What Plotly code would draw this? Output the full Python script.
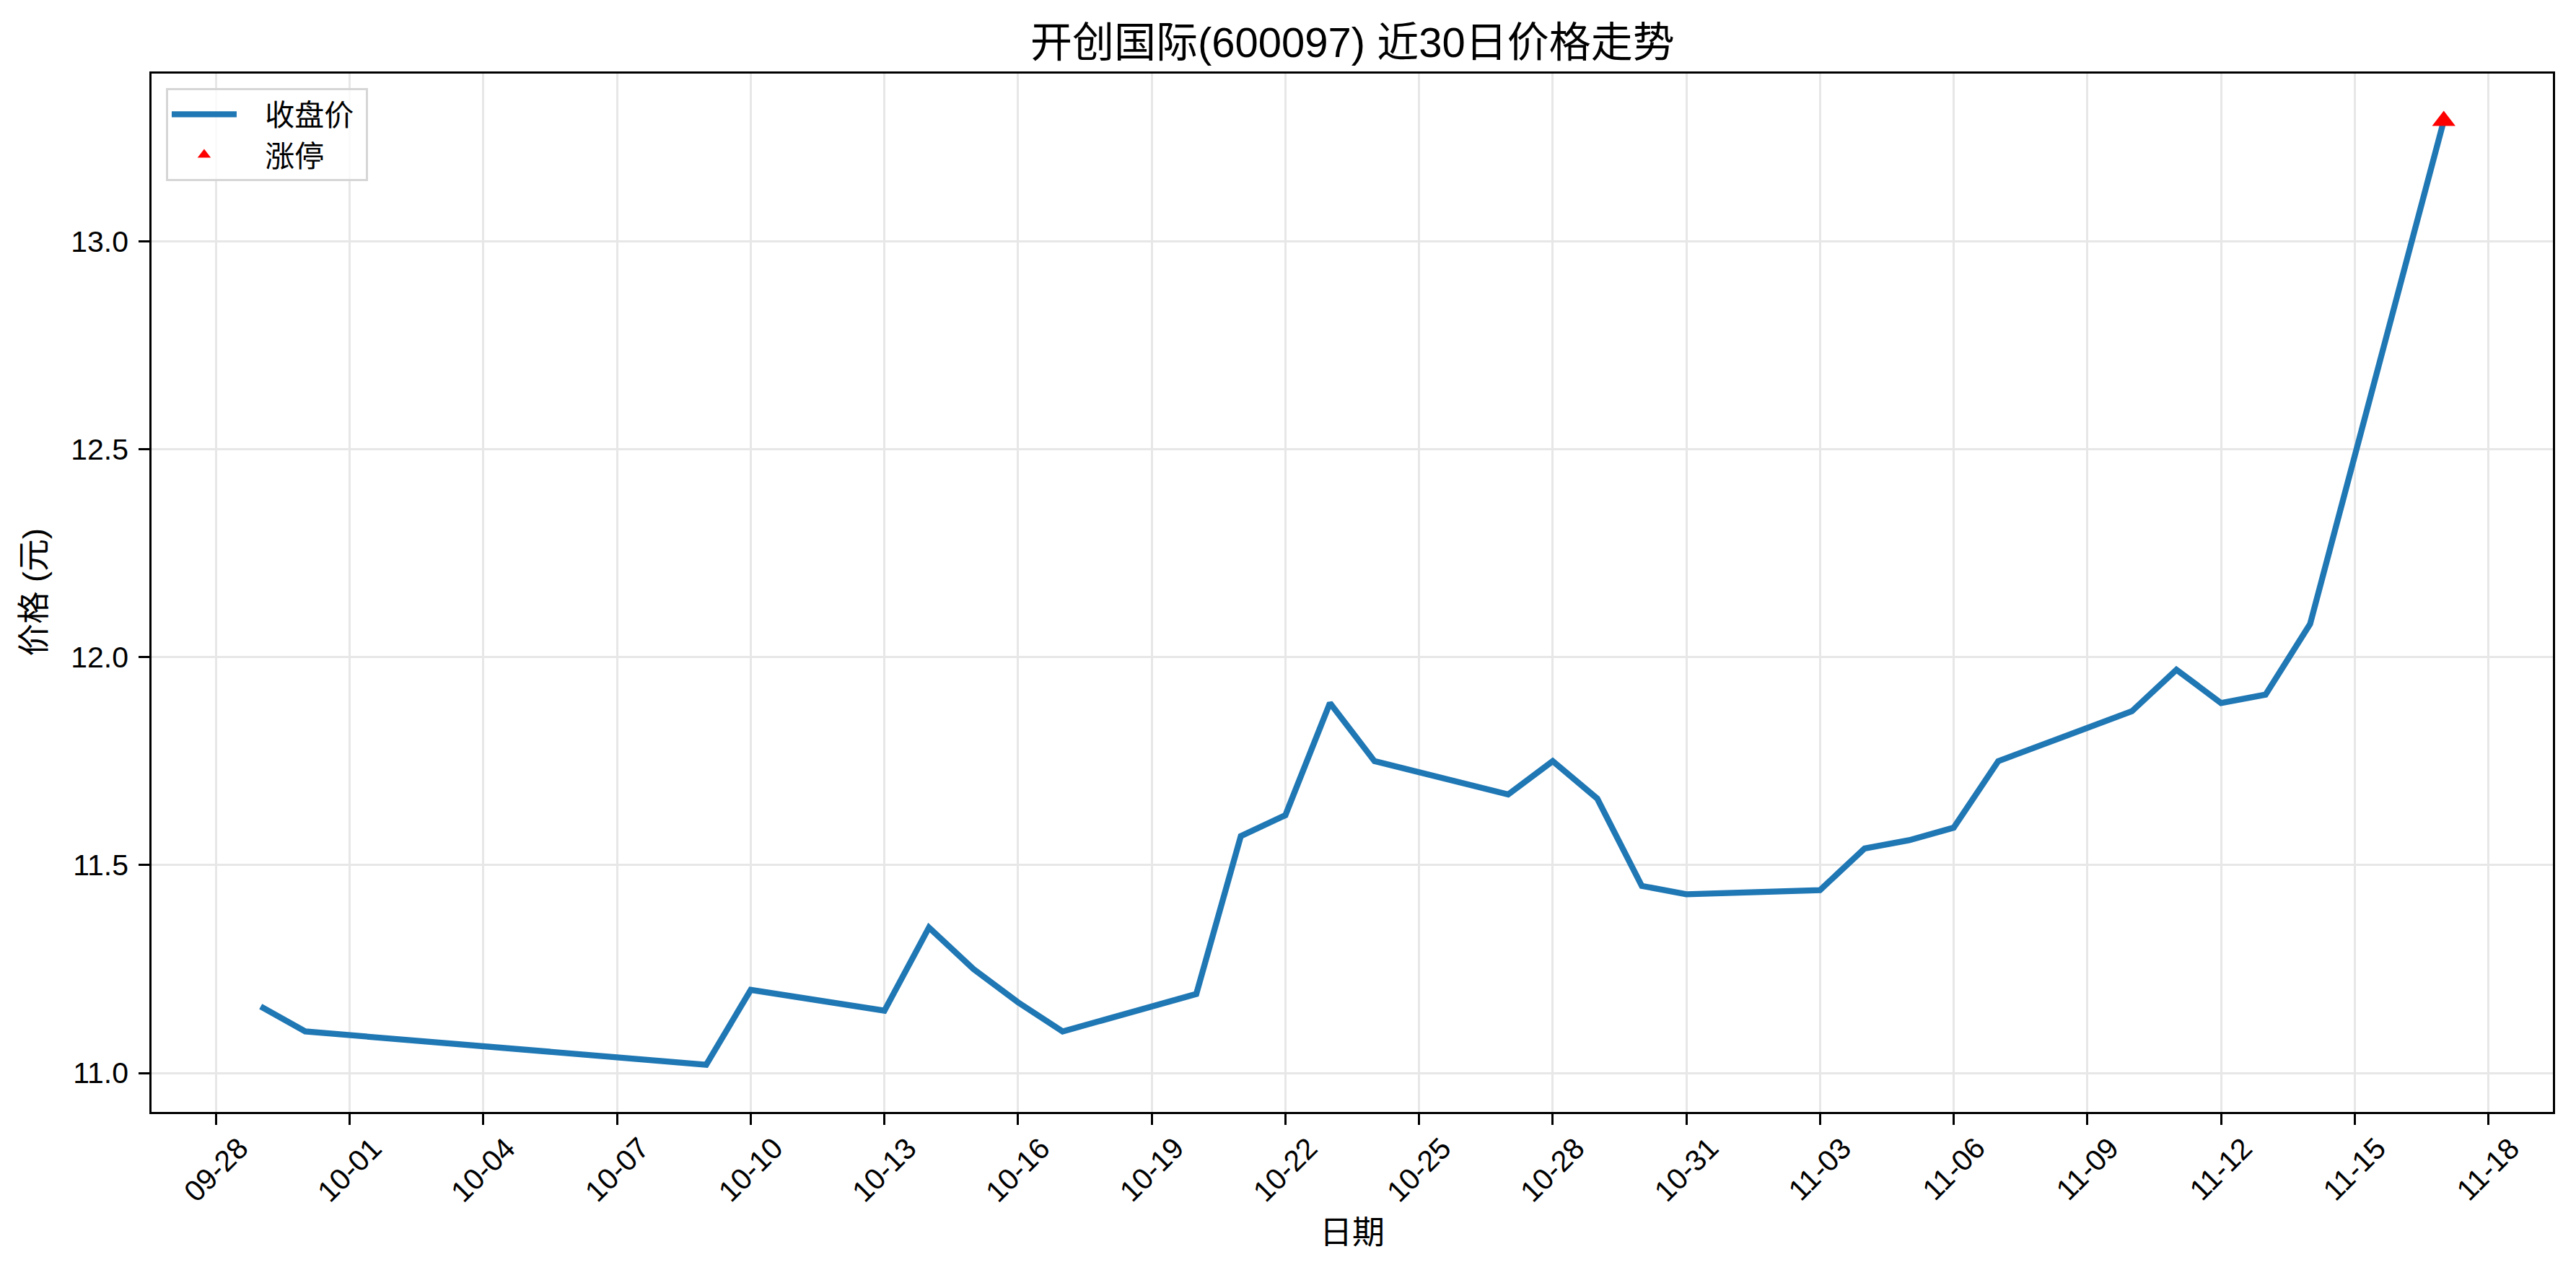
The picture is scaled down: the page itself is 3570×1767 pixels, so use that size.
import plotly.graph_objects as go

dates = ["2025-09-29", "2025-09-30", "2025-10-09", "2025-10-10", "2025-10-13", "2025-10-14",
         "2025-10-15", "2025-10-16", "2025-10-17", "2025-10-20", "2025-10-21", "2025-10-22",
         "2025-10-23", "2025-10-24", "2025-10-27", "2025-10-28", "2025-10-29", "2025-10-30",
         "2025-10-31", "2025-11-03", "2025-11-04", "2025-11-05", "2025-11-06", "2025-11-07",
         "2025-11-10", "2025-11-11", "2025-11-12", "2025-11-13", "2025-11-14", "2025-11-17"]
close = [11.16, 11.10, 11.02, 11.20, 11.15, 11.35,
         11.25, 11.17, 11.10, 11.19, 11.57, 11.62,
         11.89, 11.75, 11.67, 11.75, 11.66, 11.45,
         11.43, 11.44, 11.54, 11.56, 11.59, 11.75,
         11.87, 11.97, 11.89, 11.91, 12.08, 13.29]
limit_dates = ["2025-11-17"]
limit_close = [13.29]

tick_dates = ["2025-09-28", "2025-10-01", "2025-10-04", "2025-10-07", "2025-10-10", "2025-10-13",
              "2025-10-16", "2025-10-19", "2025-10-22", "2025-10-25", "2025-10-28", "2025-10-31",
              "2025-11-03", "2025-11-06", "2025-11-09", "2025-11-12", "2025-11-15", "2025-11-18"]
tick_labels = ["09-28", "10-01", "10-04", "10-07", "10-10", "10-13", "10-16", "10-19", "10-22",
               "10-25", "10-28", "10-31", "11-03", "11-06", "11-09", "11-12", "11-15", "11-18"]
ytick_vals = [11.0, 11.5, 12.0, 12.5, 13.0]
ytick_labels = ["11.0", "11.5", "12.0", "12.5", "13.0"]

title_text = "开创国际(600097) 近30日价格走势"
xlabel = "日期"
ylabel = "价格 (元)"
legend_names = ["收盘价", "涨停"]

FONT = "Liberation Sans, Arial, Noto Sans CJK SC, sans-serif"
W, H = 3570, 1767
ML, MR, MT, MB = 210, 32, 102, 226
PAD = "\u00a0\u00a0\u00a0"

fig = go.Figure()
fig.add_trace(go.Scatter(x=dates, y=close, mode="lines", name=PAD + legend_names[0] + "\u00a0",
                         line=dict(color="#1f77b4", width=8.3)))
fig.add_trace(go.Scatter(x=limit_dates, y=limit_close, mode="markers",
                         name=PAD + legend_names[1],
                         marker=dict(symbol="triangle-up", color="red", size=28,
                                     line=dict(width=0))))

annotations = []
for d, t in zip(tick_dates, tick_labels):
    annotations.append(dict(x=d, y=0, xref="x", yref="paper", text=t, textangle=-45,
                            showarrow=False, xanchor="center", yanchor="top", yshift=-24,
                            font=dict(family=FONT, size=41, color="black")))
annotations.append(dict(x=0.5, y=0, xref="paper", yref="paper", text=xlabel, showarrow=False,
                        xanchor="center", yanchor="middle", yshift=-167,
                        font=dict(family=FONT, size=45, color="black")))
annotations.append(dict(x=0, y=0.5, xref="paper", yref="paper", text=ylabel, showarrow=False,
                        textangle=-90, xanchor="center", yanchor="middle", xshift=-163,
                        font=dict(family=FONT, size=45, color="black")))
annotations.append(dict(x=0.5, y=1, xref="paper", yref="paper", text=title_text, showarrow=False,
                        xanchor="center", yanchor="middle", yshift=44,
                        font=dict(family=FONT, size=58, color="black")))

fig.update_layout(
    width=W, height=H,
    margin=dict(l=ML, r=MR, t=MT, b=MB),
    paper_bgcolor="white", plot_bgcolor="white",
    font=dict(family=FONT, size=41, color="black"),
    showlegend=True,
    legend=dict(x=0.006, y=0.986, xanchor="left", yanchor="top",
                bgcolor="rgba(255,255,255,0.8)", bordercolor="#d6d6d6", borderwidth=3,
                font=dict(family=FONT, size=41, color="black"), itemwidth=90),
    annotations=annotations,
)
fig.update_xaxes(type="date", range=["2025-09-26 13:12", "2025-11-19 10:48"],
                 tickvals=tick_dates, showticklabels=False,
                 ticks="outside", ticklen=14.6, tickwidth=3.3, tickcolor="black",
                 showline=True, linecolor="black", linewidth=3.3, mirror=True,
                 showgrid=True, gridcolor="#e7e7e7", gridwidth=3.3, zeroline=False)
fig.update_yaxes(range=[10.9065, 13.4035], tickvals=ytick_vals, ticktext=ytick_labels,
                 ticks="outside", ticklen=14.6, tickwidth=3.3, tickcolor="black",
                 ticklabelstandoff=6,
                 tickfont=dict(family=FONT, size=41, color="black"),
                 showline=True, linecolor="black", linewidth=3.3, mirror=True,
                 showgrid=True, gridcolor="#e7e7e7", gridwidth=3.3, zeroline=False)

fig.write_html("out.html", config={"displayModeBar": False},
               post_script="document.body.style.margin='0';document.body.style.overflow='hidden';")
